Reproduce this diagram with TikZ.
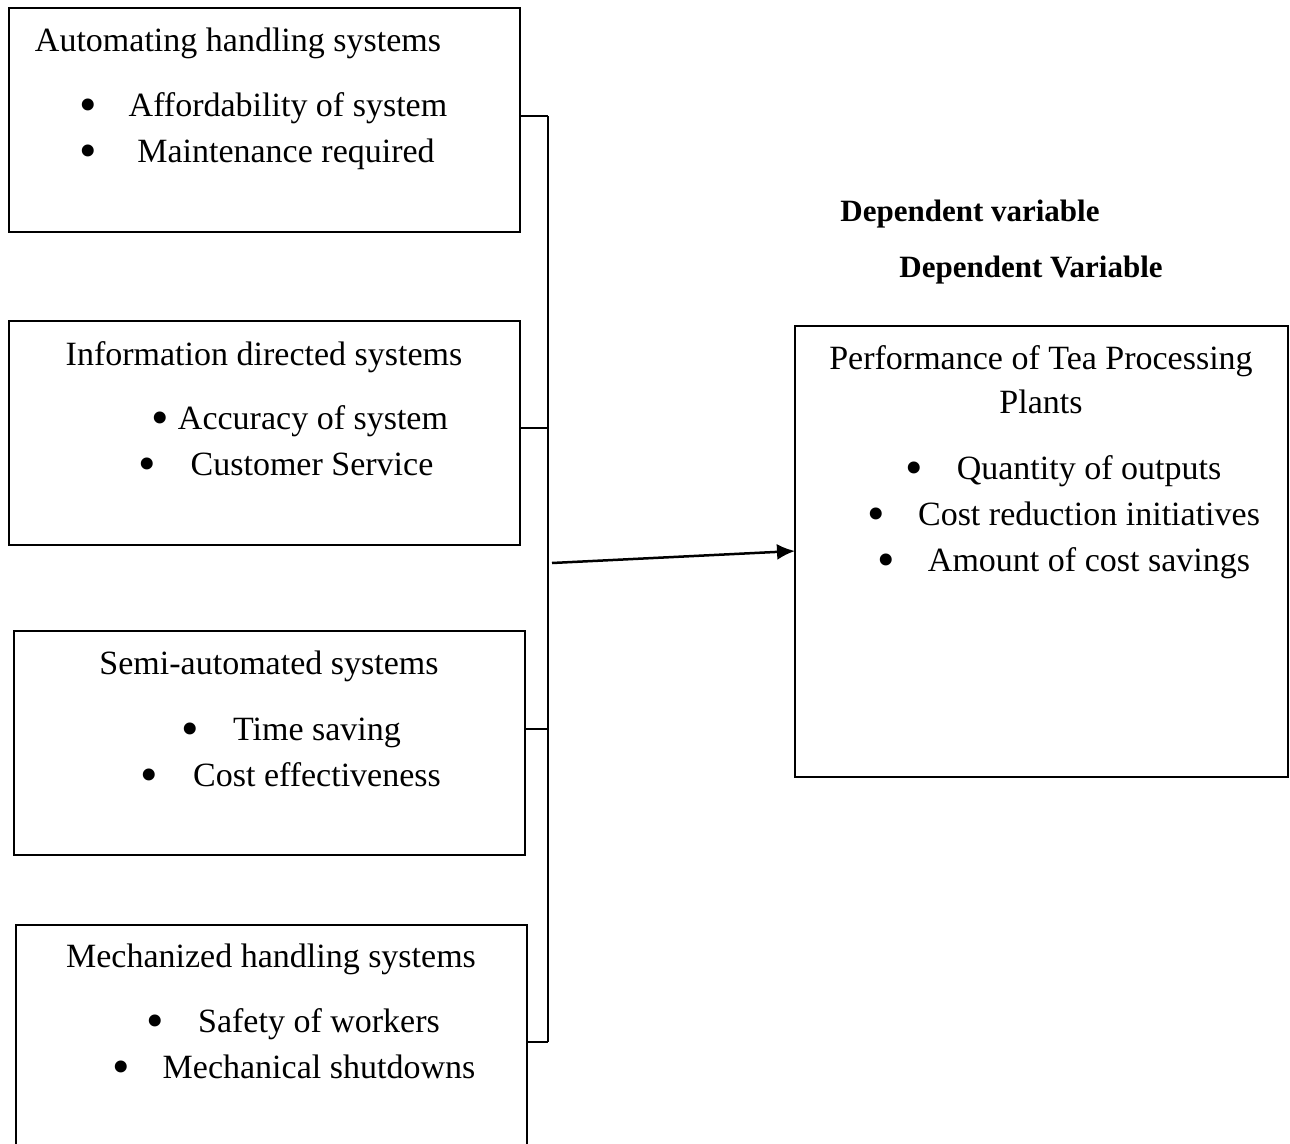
\documentclass[tikz,border=0pt]{standalone}
\usepackage{fontspec}
\setmainfont{Liberation Serif}
\usetikzlibrary{arrows.meta}
\begin{document}
\begin{tikzpicture}[x=1pt,y=-1pt,
  box/.style={draw,line width=2.5pt,inner sep=0pt,outer sep=0pt,anchor=north west},
  txt/.style={anchor=base,inner sep=0pt,font=\fontsize{34}{40}\selectfont},
  bul/.style={anchor=base,inner sep=0pt,yshift=-5pt,text height=20pt,text depth=0pt,font=\fontsize{50}{54}\selectfont},
  hd/.style={anchor=base,inner sep=0pt,font=\fontsize{31}{36}\selectfont\bfseries},
  tick/.style={line width=1.5pt},
  arr/.style={line width=2.5pt,-{Latex[length=18pt,width=16pt]}}]
\useasboundingbox (0,0) rectangle (1290,1143);
% boxes
\node[box,minimum width=511pt,minimum height=224pt] (b1) at (9,8) {};
\node[box,minimum width=511pt,minimum height=224pt] (b2) at (9,321) {};
\node[box,minimum width=511pt,minimum height=224pt] (b3) at (14,631) {};
\node[box,minimum width=511pt,minimum height=240pt] (b4) at (16,925) {};
\node[box,minimum width=493pt,minimum height=451pt] (r) at (795,326) {};
% box 1
\node[txt] (h1) at (238,51) {Automating handling systems};
\node[bul] (p1a) at (88,116) {•};
\node[txt] (t1a) at (288,116) {Affordability of system};
\node[bul] (p1b) at (88,162) {•};
\node[txt] (t1b) at (286,162) {Maintenance required};
% box 2
\node[txt] (h2) at (264,365) {Information directed systems};
\node[bul] (p2a) at (160,429) {•};
\node[txt] (t2a) at (313,429) {Accuracy of system};
\node[bul] (p2b) at (147,475) {•};
\node[txt] (t2b) at (312,475) {Customer Service};
% box 3
\node[txt] (h3) at (269,674) {Semi-automated systems};
\node[bul] (p3a) at (190,740) {•};
\node[txt] (t3a) at (317,740) {Time saving};
\node[bul] (p3b) at (149,786) {•};
\node[txt] (t3b) at (317,786) {Cost effectiveness};
% box 4
\node[txt] (h4) at (271,967) {Mechanized handling systems};
\node[bul] (p4a) at (155,1032) {•};
\node[txt] (t4a) at (319,1032) {Safety of workers};
\node[bul] (p4b) at (121,1078) {•};
\node[txt] (t4b) at (319,1078) {Mechanical shutdowns};
% right box
\node[txt] (hr) at (1041,369) {Performance of Tea Processing};
\node[txt] (hr2) at (1041,413) {Plants};
\node[bul] (pra) at (914,479) {•};
\node[txt] (tra) at (1089,479) {Quantity of outputs};
\node[bul] (prb) at (876,525) {•};
\node[txt] (trb) at (1089,525) {Cost reduction initiatives};
\node[bul] (prc) at (886,571) {•};
\node[txt] (trc) at (1089,571) {Amount of cost savings};
% headings
\node[hd] (d1) at (970,221) {Dependent variable};
\node[hd] (d2) at (1031,277) {Dependent Variable};
% connectors
\coordinate (c1) at (548,116);
\coordinate (c2) at (548,428);
\coordinate (c3) at (548,729);
\coordinate (c4) at (548,1042);
\coordinate (s) at (552,563);
\coordinate (e) at (797,551);
\draw[tick] (c1) -- (c4);
\draw[tick] (b1.east |- c1) -- (c1);
\draw[tick] (b2.east |- c2) -- (c2);
\draw[tick] (b3.east |- c3) -- (c3);
\draw[tick] (b4.east |- c4) -- (c4);
\draw[arr] (s) -- (r.west |- e);
\end{tikzpicture}
\end{document}
